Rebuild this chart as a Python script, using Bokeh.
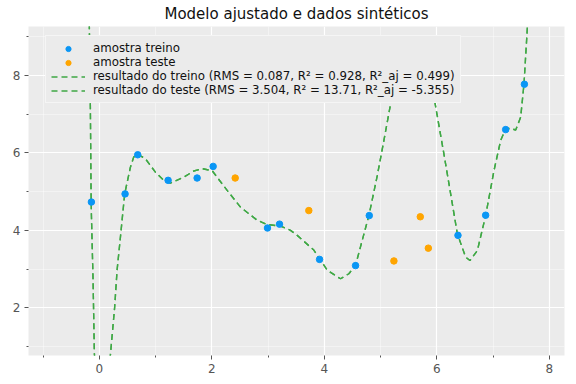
from bokeh.plotting import figure
from bokeh.models import ColumnDataSource, Legend, LegendItem, FixedTicker, Range1d
from bokeh.embed import file_html
from bokeh.resources import INLINE

# ---- data ----
train_x = [-0.142, 0.457, 0.682, 1.222, 1.738, 2.023, 2.989, 3.203, 3.915, 4.555, 4.799, 6.376, 6.868, 7.224, 7.557]
train_y = [4.73, 4.94, 5.95, 5.29, 5.35, 5.65, 4.06, 4.16, 3.25, 3.09, 4.38, 3.87, 4.39, 6.60, 7.77]

test_x = [2.415, 3.724, 5.237, 5.706, 5.849]
test_y = [5.35, 4.51, 3.21, 4.35, 3.54]

# fitted model curve
curve_x = [-0.19, -0.178, -0.160, -0.148, -0.142, -0.112, -0.089, -0.07, 0.03, 0.13,
           0.196, 0.272, 0.315, 0.374, 0.450, 0.493, 0.552, 0.610, 0.676, 0.818,
           0.996, 1.144, 1.263, 1.500, 1.678, 1.833, 2.005, 2.272, 2.509, 2.806,
           2.984, 3.221, 3.399, 3.518, 3.813, 4.052, 4.288, 4.436, 4.555, 4.792,
           4.941, 5.059, 5.178, 5.356, 5.57, 5.78, 5.966, 6.126, 6.246, 6.365,
           6.512, 6.589, 6.721, 6.868, 7.016, 7.135, 7.224, 7.313, 7.402, 7.491,
           7.550, 7.610, 7.62]
curve_y = [9.60, 9.24, 7.17, 5.03, 4.44, 2.71, 0.83, 0.40, 0.00, 0.40,
           0.78, 2.02, 2.97, 3.82, 4.94, 5.23, 5.63, 5.89, 5.97, 5.85,
           5.50, 5.29, 5.22, 5.37, 5.53, 5.59, 5.54, 5.03, 4.60, 4.26,
           4.15, 4.11, 4.00, 3.87, 3.49, 2.97, 2.75, 2.88, 3.10, 4.38,
           5.41, 6.32, 7.26, 8.12, 8.43, 8.17, 7.30, 5.97, 4.94, 3.91,
           3.31, 3.22, 3.48, 4.38, 5.54, 6.32, 6.62, 6.63, 6.59, 6.92,
           7.78, 9.24, 9.67]

title_text = "Modelo ajustado e dados sintéticos"
lbl_train = "amostra treino"
lbl_test = "amostra teste"
lbl_fit_train = "resultado do treino (RMS = 0.087, R² = 0.928, R²_aj = 0.499)"
lbl_fit_test = "resultado do teste (RMS = 3.504, R² = 13.71, R²_aj = -5.355)"

x_major = [0, 2, 4, 6, 8]
x_minor = [-1, 1, 3, 5, 7]
y_major = [2, 4, 6, 8]
y_minor = [1, 3, 5, 7, 9]

FONT = "DejaVu Sans"
BLUE = "#0a96f5"
ORANGE = "#ffa500"
GREEN = "#3fa845"

p = figure(width=576, height=384, output_backend="svg", toolbar_location=None,
           x_range=Range1d(-1.26, 8.27), y_range=Range1d(0.77, 9.26),
           min_border_left=28, min_border_right=12, min_border_top=26, min_border_bottom=29,
           background_fill_color="#ebebeb", border_fill_color="white", outline_line_color=None)

p.title.text = title_text
p.title.align = "center"
p.title.vertical_align = "top"
p.title.text_font = FONT
p.title.text_font_size = "15px"
p.title.text_font_style = "normal"
p.title.text_color = "#111111"
p.title.standoff = 4

curve_src = ColumnDataSource(dict(x=curve_x, y=curve_y))
r_fit_train = p.line("x", "y", source=curve_src, line_color=GREEN, line_width=1.4, line_dash="6 4")
r_fit_test = p.line("x", "y", source=curve_src, line_color=GREEN, line_width=1.4, line_dash="6 4")
r_train = p.scatter(train_x, train_y, size=6.5, fill_color=BLUE, line_color=BLUE)
r_test = p.scatter(test_x, test_y, size=6.5, fill_color=ORANGE, line_color=ORANGE)

for ax, maj, mnr in ((p.xaxis[0], x_major, x_minor), (p.yaxis[0], y_major, y_minor)):
    ax.ticker = FixedTicker(ticks=maj, minor_ticks=mnr)
    ax.axis_line_color = None
    ax.major_tick_line_color = "#555555"
    ax.minor_tick_line_color = "#555555"
    ax.major_tick_out = 4
    ax.major_tick_in = 0
    ax.minor_tick_out = 2
    ax.minor_tick_in = 0
    ax.major_label_text_font = FONT
    ax.major_label_text_font_size = "12px"
    ax.major_label_text_color = "#555555"
    ax.major_label_standoff = 4

for g in (p.xgrid[0], p.ygrid[0]):
    g.grid_line_color = "white"
    g.grid_line_width = 1.2
    g.minor_grid_line_color = "white"
    g.minor_grid_line_alpha = 0.5
    g.minor_grid_line_width = 0.8

legend = Legend(items=[
    LegendItem(label=lbl_train, renderers=[r_train]),
    LegendItem(label=lbl_test, renderers=[r_test]),
    LegendItem(label=lbl_fit_train, renderers=[r_fit_train]),
    LegendItem(label=lbl_fit_test, renderers=[r_fit_test]),
], location=(17, 252))
legend.label_text_font = FONT
legend.label_text_font_size = "11.8px"
legend.label_text_color = "#111111"
legend.label_height = 13
legend.glyph_height = 13
legend.glyph_width = 34
legend.label_standoff = 8
legend.spacing = 0
legend.padding = 5
legend.margin = 0
legend.border_line_color = "white"
legend.border_line_width = 1
legend.background_fill_color = "#ebebeb"
legend.background_fill_alpha = 1.0
p.add_layout(legend, "center")

open("out.html", "w").write(file_html(p, INLINE))
